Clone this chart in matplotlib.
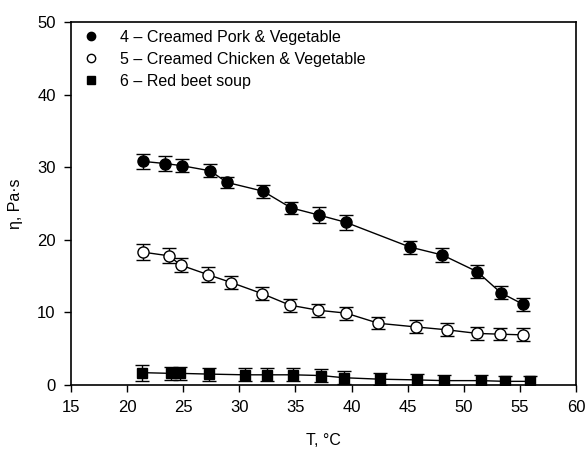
import numpy as np
import matplotlib
matplotlib.use("Agg")
import matplotlib.pyplot as plt

plt.rcParams['font.family'] = ['Liberation Sans', 'DejaVu Sans']

# 4 - Creamed Pork & Vegetable
t_pork = [21.4, 23.4, 24.9, 27.4, 28.9, 32.1, 34.6, 37.1, 39.5, 45.2, 48.1, 51.2, 53.3, 55.3]
eta_pork = [30.8, 30.5, 30.2, 29.5, 27.9, 26.7, 24.4, 23.4, 22.4, 19.0, 17.9, 15.6, 12.7, 11.1]
err_pork = [1.0, 1.0, 0.9, 0.9, 0.8, 0.9, 0.8, 1.1, 1.0, 0.9, 0.9, 0.9, 0.9, 0.9]

# 5 - Creamed Chicken & Vegetable
t_chick = [21.4, 23.7, 24.8, 27.2, 29.3, 32.0, 34.5, 37.0, 39.5, 42.4, 45.7, 48.5, 51.2, 53.2, 55.3]
eta_chick = [18.3, 17.8, 16.5, 15.2, 14.1, 12.6, 11.0, 10.3, 9.9, 8.5, 8.0, 7.6, 7.1, 7.0, 6.9]
err_chick = [1.1, 1.0, 1.0, 1.0, 0.9, 0.9, 0.9, 0.9, 0.9, 0.8, 0.9, 0.9, 0.9, 0.8, 0.9]

# 6 - Red beet soup
t_beet = [21.3, 23.9, 24.7, 27.3, 30.5, 32.5, 34.8, 37.3, 39.3, 42.5, 45.8, 48.2, 51.5, 53.7, 55.9]
eta_beet = [1.7, 1.6, 1.6, 1.5, 1.4, 1.4, 1.4, 1.3, 1.0, 0.8, 0.7, 0.6, 0.6, 0.5, 0.5]
err_beet = [1.1, 0.9, 0.9, 0.9, 0.9, 0.9, 0.9, 0.9, 0.9, 0.8, 0.8, 0.8, 0.8, 0.8, 0.8]

fig = plt.figure(figsize=(5.85, 4.61), dpi=100)
ax = fig.add_axes([0.1214, 0.1649, 0.8632, 0.7874])

kw = dict(color='black', ecolor='black', elinewidth=1.0, capsize=5, capthick=1.0,
          linewidth=1.0, markeredgewidth=1.0)
ax.errorbar(t_pork, eta_pork, yerr=err_pork, fmt='-o', markerfacecolor='black',
            markersize=8, label='4 – Creamed Pork & Vegetable', **kw)
ax.errorbar(t_chick, eta_chick, yerr=err_chick, fmt='-o', markerfacecolor='white',
            markersize=8, label='5 – Creamed Chicken & Vegetable', **kw)
ax.errorbar(t_beet, eta_beet, yerr=err_beet, fmt='-s', markerfacecolor='black',
            markersize=7, label='6 – Red beet soup', **kw)

ax.set_xlim(15, 60)
ax.set_ylim(0, 50)
ax.set_xticks(np.arange(15, 61, 5))
ax.set_yticks(np.arange(0, 51, 10))
ax.tick_params(direction='out', length=5, width=1, labelsize=12, pad=6)
ax.tick_params(top=False, right=False)
for s in ax.spines.values():
    s.set_linewidth(1.2)

ax.set_xlabel('T, °C', fontsize=11.5, labelpad=13)
ax.set_ylabel('η, Pa·s', fontsize=11.5, labelpad=10)

h, l = ax.get_legend_handles_labels()
h = [x[0] for x in h]
leg = ax.legend(h, l, loc='upper left', frameon=False, fontsize=11.5,
                handlelength=1.0, handletextpad=1.3, labelspacing=0.45,
                borderaxespad=0.0, borderpad=0.2, markerscale=0.75,
                bbox_to_anchor=(0.018, 0.988))
for ln in leg.get_lines():
    ln.set_linestyle('None')

fig.savefig('out.png', dpi=100)
